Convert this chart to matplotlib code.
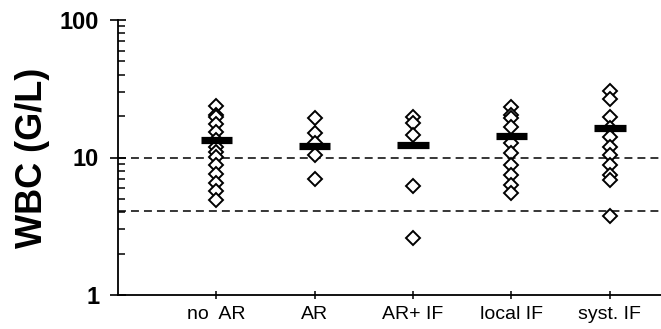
import numpy as np
import matplotlib.pyplot as plt
from matplotlib.ticker import FixedLocator, LogLocator, NullFormatter

# groups and WBC values (G/L)
groups = ['no  AR', 'AR', 'AR+ IF', 'local IF', 'syst. IF']
wbc_no_ar = [23.5, 20.4, 19.6, 17.5, 15.3, 13.4, 11.9, 11.0, 10.1, 8.8, 7.6,
             6.5, 5.7, 4.9]
wbc_ar = [19.3, 15.1, 12.7, 10.4, 7.0]
wbc_ar_if = [19.6, 17.9, 14.6, 6.2, 2.6]
wbc_local_if = [23.4, 20.4, 19.3, 16.7, 12.7, 10.7, 8.8, 7.5, 6.3, 5.5]
wbc_syst_if = [30.6, 26.5, 19.8, 16.4, 14.2, 12.0, 10.4, 8.8, 7.5, 6.9, 3.75]
means = [13.4, 12.2, 12.3, 14.3, 16.4]
normal_range = [4.1, 10.0]

values = [wbc_no_ar, wbc_ar, wbc_ar_if, wbc_local_if, wbc_syst_if]

plt.rcParams['font.family'] = ['Liberation Sans', 'DejaVu Sans']

fig = plt.figure(figsize=(6.61, 3.29), dpi=100)
ax = fig.add_axes([118 / 661, 1 - 295 / 329, 543 / 661, 275 / 329])

for lim in normal_range:
    ax.axhline(lim, color='black', lw=1.1, dashes=(5.2, 3.3), zorder=1)

for i, vals in enumerate(values):
    x = np.full(len(vals), i + 1)
    ax.plot(x, vals, 'D', ms=7, mfc='white', mec='black', mew=1.4,
            ls='none', zorder=2)
    ax.plot([i + 1 - 0.16, i + 1 + 0.16], [means[i], means[i]], color='black',
            lw=5.2, solid_capstyle='butt', zorder=3)

ax.set_yscale('log')
ax.set_ylim(1, 100)
ax.set_xlim(0, 5.52)

ax.yaxis.set_major_locator(FixedLocator([1, 10, 100]))
ax.yaxis.set_major_formatter(plt.FuncFormatter(lambda v, p: '%d' % v))
ax.yaxis.set_minor_locator(LogLocator(base=10, subs=np.arange(2, 10)))
ax.yaxis.set_minor_formatter(NullFormatter())
ax.tick_params(axis='y', which='major', direction='inout', length=11,
               width=1.2, pad=8, labelsize=17)
ax.tick_params(axis='y', which='minor', direction='in', length=5, width=1.1)
for lbl in ax.get_yticklabels():
    lbl.set_fontweight('bold')

ax.set_xticks(range(1, len(groups) + 1))
ax.set_xticklabels(groups, fontsize=14)
ax.tick_params(axis='x', direction='inout', length=6, width=1.1, pad=5)

for side in ['top', 'right']:
    ax.spines[side].set_visible(False)
for side in ['left', 'bottom']:
    ax.spines[side].set_linewidth(1.3)

ax.set_ylabel('WBC (G/L)', fontsize=26, fontweight='bold')
ax.yaxis.set_label_coords(-0.125, 0.5)

fig.savefig('out.png', dpi=100)
